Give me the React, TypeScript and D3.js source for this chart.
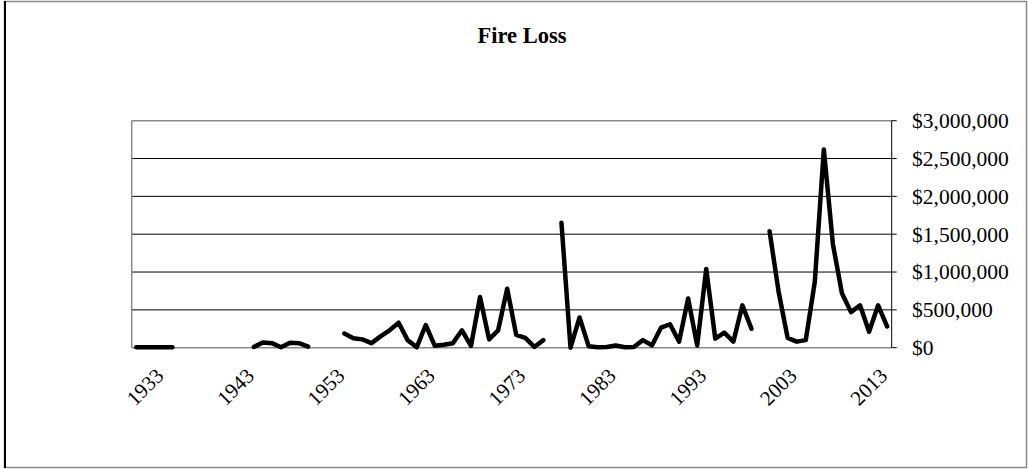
import React from "react";
import * as d3 from "d3";

const years: number[] = [
  1930, 1931, 1932, 1933, 1934, 1935, 1936, 1937, 1938, 1939,
  1940, 1941, 1942, 1943, 1944, 1945, 1946, 1947, 1948, 1949,
  1950, 1951, 1952, 1953, 1954, 1955, 1956, 1957, 1958, 1959,
  1960, 1961, 1962, 1963, 1964, 1965, 1966, 1967, 1968, 1969,
  1970, 1971, 1972, 1973, 1974, 1975, 1976, 1977, 1978, 1979,
  1980, 1981, 1982, 1983, 1984, 1985, 1986, 1987, 1988, 1989,
  1990, 1991, 1992, 1993, 1994, 1995, 1996, 1997, 1998, 1999,
  2000, 2001, 2002, 2003, 2004, 2005, 2006, 2007, 2008, 2009,
  2010, 2011, 2012, 2013,
];

const fireLoss: (number | null)[] = [
  5000, 5000, 5000, 5000, 5000, null, null, null, null, null,
  null, null, null, 10000, 70000, 60000, 5000, 65000, 60000, 15000,
  null, null, null, 187000, 125000, 110000, 60000, 150000, 230000, 330000,
  100000, 5000, 300000, 25000, 40000, 60000, 230000, 25000, 670000, 110000,
  230000, 780000, 170000, 130000, 10000, 100000, null, 1650000, 0, 400000,
  20000, 5000, 10000, 30000, 5000, 10000, 100000, 30000, 265000, 310000,
  80000, 650000, 30000, 1040000, 120000, 200000, 80000, 560000, 250000, null,
  1540000, 740000, 130000, 80000, 100000, 870000, 2620000, 1370000, 720000, 470000,
  560000, 210000, 560000, 280000,
];

const xLabels: number[] = [1933, 1943, 1953, 1963, 1973, 1983, 1993, 2003, 2013];
const yTicks: number[] = [0, 500000, 1000000, 1500000, 2000000, 2500000, 3000000];

const W = 1028;
const H = 469;
const L = 131.7;
const R = 891.7;
const T = 120.7;
const B = 347.7;

export default function App() {
  const x = d3.scaleBand<number>().domain(years).range([L, R]).padding(0);
  const y = d3.scaleLinear().domain([0, 3000000]).range([B, T]);
  const cx = (yr: number) => (x(yr) as number) + x.bandwidth() / 2;
  const pts = years.map((yr, i) => ({ yr, v: fireLoss[i] }));
  const line = d3
    .line<{ yr: number; v: number | null }>()
    .defined((d) => d.v !== null)
    .x((d) => cx(d.yr))
    .y((d) => y(d.v as number));
  const fmt = (v: number) => "$" + d3.format(",")(v);
  const font = "'Liberation Serif', 'Times New Roman', serif";

  return (
    <div style={{ position: "absolute", left: 0, top: 0 }}>
      <svg width={W} height={H} style={{ display: "block", background: "#fff" }}>
        <rect x={0} y={0} width={W} height={H} fill="#fff" />
        <rect x={4.5} y={1.5} width={1022} height={466} fill="none" stroke="#888" strokeWidth={1.5} />
        <line x1={5} y1={1} x2={5} y2={468} stroke="#000" strokeWidth={2} />
        <text x={522} y={43} textAnchor="middle" fontFamily={font} fontWeight="bold" fontSize={22.5}>
          Fire Loss
        </text>
        {yTicks.slice(1, -1).map((t) => (
          <line key={"g" + t} x1={L} x2={R} y1={y(t)} y2={y(t)} stroke="#000" strokeWidth={1} />
        ))}
        <line x1={L} x2={R} y1={T} y2={T} stroke="#888" strokeWidth={1.5} />
        <line x1={L} x2={L} y1={T} y2={B} stroke="#888" strokeWidth={1.5} />
        <line x1={L} x2={R} y1={B} y2={B} stroke="#888" strokeWidth={1.5} />
        <line x1={R} x2={R} y1={T} y2={B} stroke="#000" strokeWidth={1} />
        {yTicks.map((t) => (
          <g key={"t" + t}>
            <line x1={R} x2={R + 5} y1={y(t)} y2={y(t)} stroke="#000" strokeWidth={1} />
            <text x={912} y={y(t)} dy="0.34em" fontFamily={font} fontSize={21.5} fill="#000">
              {fmt(t)}
            </text>
          </g>
        ))}
        <path
          d={line(pts) || ""}
          fill="none"
          stroke="#000"
          strokeWidth={4.5}
          strokeLinejoin="round"
          strokeLinecap="round"
        />
        {xLabels.map((yr) => (
          <text
            key={"x" + yr}
            transform={`translate(${cx(yr) + 1.5},${377}) rotate(-45)`}
            textAnchor="end"
            fontFamily={font}
            fontSize={21}
            fill="#000"
          >
            {yr}
          </text>
        ))}
      </svg>
    </div>
  );
}
